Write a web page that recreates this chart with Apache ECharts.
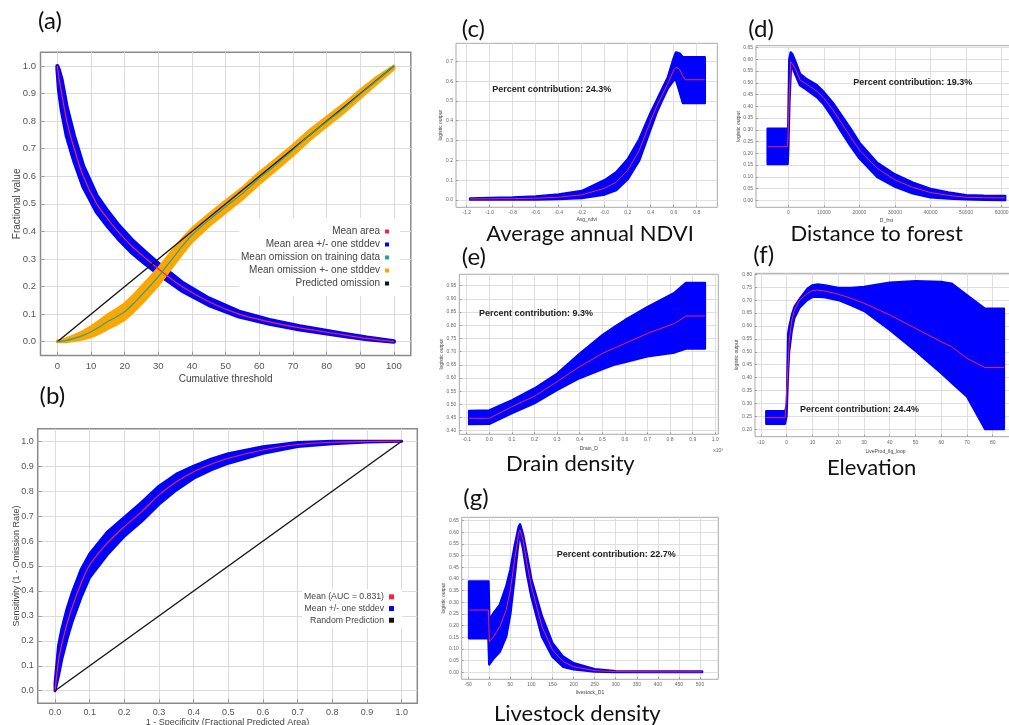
<!DOCTYPE html>
<html><head><meta charset="utf-8">
<script src="https://cdn.jsdelivr.net/npm/echarts@6/dist/echarts.min.js"></script>
<style>html,body{margin:0;padding:0;background:#fff}#c{width:1009px;height:725px}</style>
</head><body><div id="c"></div>
<script>
// ---------- (a) omission / predicted area ----------
const aAreaX    = [0, 0.5, 1.3, 2.8, 5, 7.7, 11.7, 15, 18, 22, 26.5, 31, 37, 45, 54, 63, 72, 85, 92, 100];
const aAreaMean = [1, 0.955, 0.9, 0.8, 0.7, 0.6, 0.5, 0.445, 0.4, 0.348, 0.3, 0.255, 0.2, 0.145, 0.1, 0.072, 0.05, 0.025, 0.012, 0];
const aAreaLow  = [0.99, 0.91, 0.84, 0.745, 0.655, 0.563, 0.47, 0.418, 0.375, 0.325, 0.279, 0.237, 0.185, 0.133, 0.091, 0.065, 0.044, 0.021, 0.009, 0];
const aAreaHigh = [1, 0.985, 0.95, 0.85, 0.745, 0.637, 0.53, 0.472, 0.425, 0.371, 0.321, 0.273, 0.215, 0.157, 0.109, 0.079, 0.056, 0.029, 0.015, 0.002];
const aOmX    = [0, 2.5, 5, 7.5, 10, 12.5, 15, 17.5, 20, 22.5, 25, 27.5, 30, 32.5, 35, 37.5, 40, 45, 50, 55, 60, 65, 70, 75, 80, 85, 90, 95, 100];
const aOmMean = [0, 0.004, 0.012, 0.022, 0.036, 0.053, 0.073, 0.09, 0.109, 0.137, 0.169, 0.202, 0.236, 0.275, 0.314, 0.352, 0.387, 0.441, 0.49, 0.538, 0.593, 0.643, 0.695, 0.75, 0.798, 0.846, 0.898, 0.949, 1.0];
const aOmLow  = [0, 0, 0.004, 0.01, 0.018, 0.031, 0.048, 0.063, 0.081, 0.108, 0.139, 0.172, 0.206, 0.246, 0.286, 0.326, 0.363, 0.42, 0.469, 0.518, 0.573, 0.624, 0.677, 0.733, 0.782, 0.831, 0.884, 0.938, 0.99];
const aOmHigh = [0.003, 0.01, 0.022, 0.036, 0.054, 0.075, 0.098, 0.117, 0.137, 0.166, 0.199, 0.232, 0.266, 0.304, 0.342, 0.378, 0.41, 0.462, 0.511, 0.558, 0.613, 0.662, 0.713, 0.767, 0.814, 0.861, 0.912, 0.96, 1.0];
const aPredX = [0, 100];
const aPredY = [0, 1];
const aTicksX = [0, 10, 20, 30, 40, 50, 60, 70, 80, 90, 100];
const aTicksY = [0, 0.1, 0.2, 0.3, 0.4, 0.5, 0.6, 0.7, 0.8, 0.9, 1.0];

// ---------- (b) ROC ----------
const bX    = [0, 0.01, 0.02, 0.035, 0.05, 0.075, 0.1, 0.15, 0.2, 0.25, 0.3, 0.35, 0.4, 0.45, 0.5, 0.6, 0.7, 0.8, 0.9, 1.0];
const bMean = [0, 0.12, 0.19, 0.27, 0.337, 0.43, 0.504, 0.591, 0.658, 0.718, 0.785, 0.838, 0.878, 0.908, 0.932, 0.965, 0.987, 0.996, 0.999, 1.0];
const bLow  = [0, 0.06, 0.13, 0.21, 0.28, 0.375, 0.455, 0.545, 0.62, 0.68, 0.748, 0.805, 0.852, 0.885, 0.912, 0.952, 0.979, 0.99, 0.997, 1.0];
const bHigh = [0.03, 0.18, 0.25, 0.33, 0.395, 0.485, 0.548, 0.635, 0.695, 0.755, 0.82, 0.868, 0.9, 0.928, 0.95, 0.978, 0.995, 1.0, 1.0, 1.0];
const bRandX = [0, 1];
const bRandY = [0, 1];
const bTicks = [0, 0.1, 0.2, 0.3, 0.4, 0.5, 0.6, 0.7, 0.8, 0.9, 1.0];

// ---------- (c) Average annual NDVI ----------
const cX    = [-1.17, -1.0, -0.8, -0.6, -0.4, -0.2, 0.0, 0.1, 0.2, 0.3, 0.4, 0.45, 0.5, 0.55, 0.6, 0.62, 0.65, 0.68, 0.7, 0.87];
const cMean = [0.005, 0.006, 0.007, 0.009, 0.014, 0.026, 0.059, 0.09, 0.15, 0.25, 0.40, 0.47, 0.53, 0.59, 0.656, 0.67, 0.66, 0.625, 0.607, 0.607];
const cLow  = [0.002, 0.003, 0.003, 0.003, 0.005, 0.01, 0.028, 0.05, 0.105, 0.2, 0.36, 0.44, 0.505, 0.565, 0.605, 0.608, 0.55, 0.49, 0.49, 0.49];
const cHigh = [0.008, 0.01, 0.012, 0.017, 0.028, 0.045, 0.1, 0.14, 0.205, 0.305, 0.44, 0.5, 0.56, 0.62, 0.715, 0.745, 0.74, 0.72, 0.72, 0.72];
const cTicksX = [-1.2, -1.0, -0.8, -0.6, -0.4, -0.2, 0, 0.2, 0.4, 0.6, 0.8];
const cTicksY = [0, 0.1, 0.2, 0.3, 0.4, 0.5, 0.6, 0.7];

// ---------- (d) Distance to forest ----------
const dX    = [-5800, -200, 0, 300, 700, 1200, 2000, 3300, 5000, 8000, 10000, 12500, 15000, 17500, 20000, 25000, 30000, 35000, 40000, 45000, 50000, 55000, 61000];
const dMean = [0.228, 0.228, 0.228, 0.45, 0.59, 0.585, 0.56, 0.512, 0.495, 0.465, 0.435, 0.385, 0.328, 0.27, 0.214, 0.136, 0.087, 0.055, 0.033, 0.021, 0.013, 0.011, 0.010];
const dLow  = [0.155, 0.155, 0.23, 0.42, 0.56, 0.565, 0.535, 0.49, 0.473, 0.44, 0.408, 0.352, 0.29, 0.232, 0.179, 0.1, 0.058, 0.03, 0.013, 0.008, 0.004, 0.002, 0.001];
const dHigh = [0.305, 0.305, 0.31, 0.6, 0.629, 0.62, 0.59, 0.538, 0.517, 0.49, 0.46, 0.415, 0.36, 0.305, 0.245, 0.16, 0.11, 0.075, 0.048, 0.033, 0.022, 0.019, 0.018];
const dTicksX = [0, 10000, 20000, 30000, 40000, 50000, 60000];
const dTicksY = [0, 0.05, 0.10, 0.15, 0.20, 0.25, 0.30, 0.35, 0.40, 0.45, 0.50, 0.55, 0.60, 0.65];

// ---------- (e) Drain density ----------
const eX    = [-0.09, 0.0, 0.1, 0.2, 0.3, 0.4, 0.5, 0.55, 0.6, 0.7, 0.82, 0.87, 0.955];
const eMean = [0.447, 0.447, 0.491, 0.531, 0.586, 0.643, 0.693, 0.712, 0.731, 0.769, 0.807, 0.835, 0.835];
const eLow  = [0.424, 0.425, 0.466, 0.504, 0.554, 0.599, 0.633, 0.649, 0.66, 0.681, 0.696, 0.711, 0.711];
const eHigh = [0.476, 0.478, 0.516, 0.561, 0.617, 0.693, 0.763, 0.792, 0.82, 0.87, 0.924, 0.961, 0.961];
const eTicksX = [-0.1, 0, 0.1, 0.2, 0.3, 0.4, 0.5, 0.6, 0.7, 0.8, 0.9, 1.0];
const eTicksY = [0.40, 0.45, 0.50, 0.55, 0.60, 0.65, 0.70, 0.75, 0.80, 0.85, 0.90, 0.95];

// ---------- (f) Elevation ----------
const fX    = [-8, -0.6, 0, 0.5, 1, 2, 3, 5, 8, 10, 12, 15, 20, 25, 30, 40, 50, 60, 64, 70, 77, 84.4];
const fMean = [0.245, 0.245, 0.245, 0.44, 0.546, 0.623, 0.662, 0.70, 0.726, 0.737, 0.739, 0.735, 0.723, 0.707, 0.688, 0.643, 0.591, 0.539, 0.52, 0.475, 0.439, 0.439];
const fLow  = [0.221, 0.221, 0.25, 0.40, 0.50, 0.58, 0.63, 0.67, 0.70, 0.712, 0.713, 0.71, 0.70, 0.68, 0.658, 0.585, 0.503, 0.417, 0.38, 0.326, 0.20, 0.20];
const fHigh = [0.271, 0.271, 0.30, 0.57, 0.60, 0.645, 0.675, 0.705, 0.745, 0.758, 0.762, 0.758, 0.748, 0.748, 0.752, 0.768, 0.774, 0.771, 0.765, 0.72, 0.668, 0.668];
const fTicksX = [-10, 0, 10, 20, 30, 40, 50, 60, 70, 80];
const fTicksY = [0.20, 0.25, 0.30, 0.35, 0.40, 0.45, 0.50, 0.55, 0.60, 0.65, 0.70, 0.75, 0.80];

// ---------- (g) Livestock density ----------
const gX    = [-48, -2, 0, 10, 25, 40, 50, 60, 70, 73, 80, 90, 100, 125, 150, 175, 200, 250, 300, 400, 505];
const gMean = [0.267, 0.267, 0.131, 0.153, 0.196, 0.267, 0.353, 0.482, 0.60, 0.61, 0.567, 0.46, 0.367, 0.196, 0.096, 0.046, 0.024, 0.007, 0.003, 0.002, 0.002];
const gLow  = [0.146, 0.146, 0.034, 0.06, 0.089, 0.153, 0.253, 0.41, 0.575, 0.59, 0.532, 0.417, 0.324, 0.153, 0.067, 0.024, 0.013, 0.003, 0.001, 0.001, 0.001];
const gHigh = [0.389, 0.389, 0.224, 0.253, 0.289, 0.367, 0.439, 0.539, 0.625, 0.635, 0.589, 0.496, 0.396, 0.239, 0.124, 0.067, 0.039, 0.013, 0.005, 0.003, 0.003];
const gTicksX = [-50, 0, 50, 100, 150, 200, 250, 300, 350, 400, 450, 500];
const gTicksY = [0, 0.05, 0.10, 0.15, 0.20, 0.25, 0.30, 0.35, 0.40, 0.45, 0.50, 0.55, 0.60, 0.65];

// ---------- text ----------
const panelLetters = ['(a)', '(b)', '(c)', '(d)', '(e)', '(f)', '(g)'];
const panelTitles = ['Average annual NDVI', 'Distance to forest', 'Drain density', 'Elevation', 'Livestock density'];
const contributions = ['Percent contribution: 24.3%', 'Percent contribution: 19.3%', 'Percent contribution: 9.3%', 'Percent contribution: 24.4%', 'Percent contribution: 22.7%'];

// ================= build =================
const SANS = '"Liberation Sans", Arial, sans-serif';
const BLUE = '#0000ff', RED = '#ff1f3f', TEAL = '#1aa99b', ORANGE = '#ffa500', BLACK = '#141414';

function grid(left, top, width, height, big) {
  return { left, top, width, height, show: true, backgroundColor: '#fff',
    borderColor: big ? '#8a8a8a' : '#a8a8a8', borderWidth: big ? 1.5 : 1,
    containLabel: false, outerBoundsMode: 'none' };
}
function axis(dir, gi, min, max, ticks, o) {
  return {
    type: 'value', gridIndex: gi, min, max, position: dir === 'x' ? 'bottom' : 'left',
    axisLine: { show: false, onZero: false },
    axisTick: { show: true, inside: true, length: o.tickLen, customValues: ticks, lineStyle: { color: '#9a9a9a', width: 1 } },
    axisLabel: { customValues: ticks, fontSize: o.fs, color: o.lc || '#555', fontFamily: SANS, margin: o.margin,
      formatter: o.fmt || (v => v.toFixed(o.dec)), hideOverlap: false },
    splitLine: { show: true, lineStyle: { color: o.gc || '#dcdcdc', width: 1 } },
    name: o.name, nameLocation: 'middle', nameGap: o.nameGap, nameMoveOverlap: false,
    nameTextStyle: { fontSize: o.nfs, color: '#444', fontFamily: SANS }
  };
}
function band(name, gi, xs, lo, hi, color, stroke) {
  return {
    type: 'custom', name, xAxisIndex: gi, yAxisIndex: gi, silent: true, z: 2,
    data: xs.map((x, i) => [x, lo[i], hi[i]]),
    encode: { x: 0, y: [1, 2] },
    itemStyle: { color },
    renderItem(params, api) {
      if (params.dataIndexInside !== 0) return;
      const n = params.dataInsideLength;
      const top = [], bot = [];
      for (let i = 0; i < n; i++) {
        top.push(api.coord([api.value(0, i), api.value(2, i)]));
        bot.push(api.coord([api.value(0, i), api.value(1, i)]));
      }
      return { type: 'polygon', shape: { points: top.concat(bot.reverse()) },
        style: { fill: color, stroke: color, lineWidth: stroke, lineJoin: 'round' } };
    }
  };
}
function line(name, gi, xs, ys, color, width, smooth) {
  return { type: 'line', name, xAxisIndex: gi, yAxisIndex: gi, silent: true, z: 3,
    data: xs.map((x, i) => [x, ys[i]]), symbol: 'none', showSymbol: false, smooth: smooth || false,
    lineStyle: { color, width }, itemStyle: { color } };
}

const smallOpt = (name, nameGap, ticks, dec, fmt) => ({ tickLen: 2, fs: 5, lc: '#666', margin: 3, nfs: 5, name, nameGap, dec, fmt, gc: '#dedede' });

const grids = [
  grid(40.5, 52.2, 370.3, 303.3, true),
  grid(37.7, 428.8, 379.6, 274.4, true),
  grid(456, 43.3, 261.3, 164, false),
  grid(756, 45.7, 260.9, 161.6, false),
  grid(459.3, 274.3, 259, 160, false),
  grid(755, 273.3, 260.9, 163.4, false),
  grid(461.7, 517.3, 256.6, 162, false)
];
const xAxes = [
  axis('x', 0, -5, 105, aTicksX, { tickLen: 4, fs: 9.5, margin: 6, nfs: 10, name: 'Cumulative threshold', nameGap: 18.5, dec: 0 }),
  axis('x', 1, -0.05, 1.045, bTicks, { tickLen: 4, fs: 9, margin: 5, nfs: 9, name: '1 - Specificity (Fractional Predicted Area)', nameGap: 15, dec: 1 }),
  axis('x', 2, -1.293, 0.979, cTicksX, smallOpt('Avg_ndvi', 10, cTicksX, 1, v => (v === 0 ? '-0.0' : v.toFixed(1)))),
  axis('x', 3, -9085, 64300, dTicksX, smallOpt('D_frst', 11, dTicksX, 0)),
  axis('x', 4, -0.1327, 1.0133, eTicksX, smallOpt('Drain_D', 12, eTicksX, 1)),
  axis('x', 5, -12.31, 89, fTicksX, smallOpt('LiveProd_fig_loop', 12, fTicksX, 0)),
  axis('x', 6, -65.5, 543.4, gTicksX, smallOpt('livestock_D1', 11, gTicksX, 0))
];
const yAxes = [
  axis('y', 0, -0.05, 1.05, aTicksY, { tickLen: 4, fs: 9.5, margin: 4.5, nfs: 10, name: 'Fractional value', nameGap: 18.5, dec: 1 }),
  axis('y', 1, -0.05, 1.05, bTicks, { tickLen: 4, fs: 9, margin: 4, nfs: 9, name: 'Sensitivity (1 - Omission Rate)', nameGap: 17, dec: 1 }),
  axis('y', 2, -0.037, 0.791, cTicksY, smallOpt('logistic output', 12.5, cTicksY, 1)),
  axis('y', 3, -0.0298, 0.658, dTicksY, smallOpt('logistic output', 15, dTicksY, 2)),
  axis('y', 4, 0.3863, 0.9933, eTicksY, smallOpt('logistic output', 15.5, eTicksY, 2)),
  axis('y', 5, 0.1714, 0.804, fTicksY, smallOpt('logistic output', 15.5, fTicksY, 2)),
  axis('y', 6, -0.030, 0.6647, gTicksY, smallOpt('logistic output', 16, gTicksY, 2))
];

const series = [
  band('Mean area +/- one stddev', 0, aAreaX, aAreaLow, aAreaHigh, BLUE, 4),
  line('Mean area', 0, aAreaX, aAreaMean, RED, 1.2, 0.3),
  line('Predicted omission', 0, aPredX, aPredY, BLACK, 1.4),
  band('Mean omission +- one stddev', 0, aOmX, aOmLow, aOmHigh, ORANGE, 3),
  line('Mean omission on training data', 0, aOmX, aOmMean, TEAL, 1.2, 0.3),

  band('Mean +/- one stddev', 1, bX, bLow, bHigh, BLUE, 3),
  line('Mean (AUC = 0.831)', 1, bX, bMean, RED, 1.2, 0.3),
  line('Random Prediction', 1, bRandX, bRandY, BLACK, 1.4),

  band('c band', 2, cX, cLow, cHigh, BLUE, 2.5),
  line('c mean', 2, cX, cMean, RED, 1),
  band('d band', 3, dX, dLow, dHigh, BLUE, 2.5),
  line('d mean', 3, dX, dMean, RED, 1),
  band('e band', 4, eX, eLow, eHigh, BLUE, 2),
  line('e mean', 4, eX, eMean, RED, 1),
  band('f band', 5, fX, fLow, fHigh, BLUE, 2),
  line('f mean', 5, fX, fMean, RED, 1),
  band('g band', 6, gX, gLow, gHigh, BLUE, 2.5),
  line('g mean', 6, gX, gMean, RED, 1)
];

const legends = [
  { data: ['Mean area', 'Mean area +/- one stddev', 'Mean omission on training data', 'Mean omission +- one stddev', 'Predicted omission'],
    orient: 'vertical', align: 'right', right: 609, top: 218, padding: [7, 11, 6, 2], itemGap: 0,
    itemWidth: 4, itemHeight: 4, icon: 'rect', backgroundColor: '#fff', selectedMode: false,
    textStyle: { fontSize: 10, lineHeight: 13, color: '#444', fontFamily: SANS } },
  { data: ['Mean (AUC = 0.831)', 'Mean +/- one stddev', 'Random Prediction'],
    orient: 'vertical', align: 'right', right: 607, top: 589, padding: [2, 8, 2, 2], itemGap: 0,
    itemWidth: 5, itemHeight: 5, icon: 'rect', backgroundColor: '#fff', selectedMode: false,
    textStyle: { fontSize: 8.7, lineHeight: 11.7, color: '#444', fontFamily: SANS } }
];

const letterPos = [[38, 21.5], [39.5, 396], [461.7, 29], [748.3, 29], [461.7, 257.5], [753.3, 255], [463.3, 498.5]];
const titlePos = [[590, 234], [876.7, 234], [570.3, 463.5], [871.7, 468], [577.3, 713.5]];
const contribPos = [[492.3, 89.3], [853.3, 83], [479, 314], [800, 409.3], [556.7, 555]];
const graphics = [];
panelLetters.forEach((t, i) => graphics.push({ type: 'text', x: letterPos[i][0], y: letterPos[i][1], z: 10,
  style: { text: t, font: '24px Lato, "Open Sans", sans-serif', fill: '#111', textAlign: 'left', textVerticalAlign: 'middle' } }));
panelTitles.forEach((t, i) => graphics.push({ type: 'text', x: titlePos[i][0], y: titlePos[i][1], z: 10,
  style: { text: t, font: '22px Lato, "Open Sans", sans-serif', fill: '#111', textAlign: 'center', textVerticalAlign: 'middle' } }));
contributions.forEach((t, i) => graphics.push({ type: 'text', x: contribPos[i][0], y: contribPos[i][1], z: 10,
  style: { text: t, font: 'bold 9px "Liberation Sans", Arial, sans-serif', fill: '#222', textAlign: 'left', textVerticalAlign: 'middle' } }));
graphics.push({ type: 'text', x: 718, y: 450.5, z: 10,
  style: { text: 'x10³', font: '5px "Liberation Sans", Arial, sans-serif', fill: '#666', textAlign: 'center', textVerticalAlign: 'middle' } });

const chart = echarts.init(document.getElementById('c'), null, { renderer: 'canvas' });
chart.setOption({
  animation: false,
  backgroundColor: '#fff',
  textStyle: { fontFamily: SANS },
  grid: grids, xAxis: xAxes, yAxis: yAxes,
  legend: legends,
  series,
  graphic: graphics
});
</script>
</body></html>
